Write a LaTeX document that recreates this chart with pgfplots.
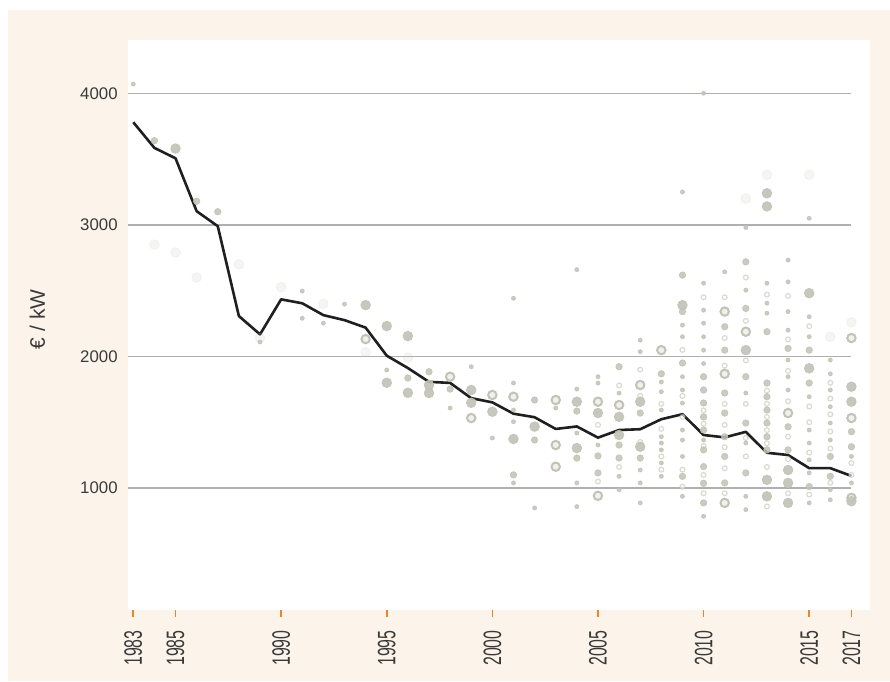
\documentclass[border=0pt]{standalone}
\usepackage{pgfplots}
\pgfplotsset{compat=1.18}
\usepackage{fontspec}
\setmainfont{Liberation Sans}
\newfontfamily\narrowfont{Liberation Sans}[FakeStretch=0.63]

\definecolor{cream}{HTML}{FCF4EA}
\definecolor{dotc}{HTML}{C2C2B6}
\definecolor{gridc}{HTML}{B0B0B0}
\definecolor{tickc}{HTML}{E8862A}
\definecolor{txt}{HTML}{3A3A3A}

% mean price per year
\pgfplotstableread{
year price
1983 3780
1984 3585
1985 3506
1986 3104
1987 2990
1988 2307
1989 2168
1990 2434
1991 2404
1992 2314
1993 2276
1994 2219
1995 2006
1996 1912
1997 1807
1998 1799
1999 1683
2000 1651
2001 1565
2002 1538
2003 1449
2004 1468
2005 1383
2006 1441
2007 1447
2008 1523
2009 1561
2010 1403
2011 1385
2012 1427
2013 1268
2014 1251
2015 1151
2016 1151
2017 1092
}\meanprice

% single plants, large dots
\pgfplotstableread{
x y
1985 3580
1994 2390
1995 2231
1995 1800
1996 2155
1996 1724
1997 1783
1997 1722
1999 1745
1999 1648
2000 1580
2001 1373
2002 1467
2004 1656
2004 1304
2005 1570
2006 1541
2006 1403
2007 1656
2007 1314
2009 2390
2012 2048
2013 3240
2013 3140
2013 1062
2013 937
2014 1137
2014 1039
2014 887
2015 2481
2015 1910
2017 1770
2017 1656
2017 900
}\bigdots

% large ring dots
\pgfplotstableread{
x y
1994 2132
1998 1846
1999 1532
2000 1707
2001 1694
2003 1669
2003 1327
2003 1162
2005 1656
2005 941
2006 1631
2007 1783
2008 2048
2011 2341
2011 1868
2011 887
2012 2188
2014 1570
2017 2140
2017 1532
2017 925
}\rings

% medium dots
\pgfplotstableread{
x y
1984 3640
1986 3180
1987 3100
1996 1836
1997 1884
1998 1752
2001 1100
2002 1669
2002 1365
2004 1585
2004 1228
2005 1244
2005 1115
2006 1922
2006 1327
2006 1228
2007 1570
2007 1228
2008 1868
2009 2618
2009 2341
2009 1950
2009 1089
2010 1846
2010 1745
2010 1646
2010 1541
2010 1441
2010 1290
2010 1163
2010 1036
2010 887
2011 2226
2011 2048
2011 1722
2011 1570
2011 1390
2011 1240
2011 1039
2012 2719
2012 2365
2012 1846
2012 1494
2012 1115
2013 2188
2013 1798
2013 1694
2013 1593
2013 1494
2013 1390
2013 1290
2014 2061
2014 1466
2014 1290
2015 2048
2015 1798
2015 1011
2016 1240
2016 1089
2017 1428
2017 1314
}\middots

% small dots
\pgfplotstableread{
x y
1983 4070
1989 2110
1991 2497
1991 2290
1992 2253
1993 2398
1995 1897
1998 1608
1999 1922
2000 1380
2001 2442
2001 1798
2001 1593
2001 1504
2001 1039
2002 849
2003 1608
2004 2660
2004 1752
2004 1418
2004 1039
2004 859
2005 1846
2005 1798
2005 1327
2006 1722
2006 1089
2006 987
2007 2124
2007 2036
2007 1137
2007 1039
2007 887
2008 1806
2008 1732
2008 1593
2008 1390
2008 1342
2008 1290
2008 1191
2008 1089
2009 3250
2009 2238
2009 2150
2009 1846
2009 1745
2009 1646
2009 1441
2009 1365
2009 1240
2009 937
2010 4000
2010 2557
2010 2352
2010 2253
2010 2150
2010 2048
2010 1946
2010 1365
2010 785
2011 2643
2012 2980
2012 2504
2012 1722
2012 1342
2012 937
2012 836
2013 2557
2013 2405
2013 2329
2014 2732
2014 2567
2014 2341
2014 2200
2014 1973
2014 1846
2014 1745
2015 3050
2015 2302
2015 2150
2015 1694
2015 1441
2015 1342
2015 1214
2015 1115
2015 887
2016 1973
2016 1868
2016 1745
2016 1618
2016 1494
2016 1365
2016 987
2016 911
2017 1240
2017 1039
}\smalldots

% pale dots filling the later columns
\pgfplotstableread{
x y
2005 1480
2005 1050
2006 1780
2006 1160
2007 1900
2007 1350
2007 1700
2008 1640
2008 1450
2008 1240
2008 1140
2009 2050
2009 1700
2009 1540
2009 1140
2009 1010
2010 2450
2010 1590
2010 1490
2010 1320
2010 1100
2010 960
2011 2450
2011 2140
2011 1930
2011 1640
2011 1480
2011 1310
2011 1150
2011 960
2012 2600
2012 2270
2012 1970
2012 1640
2012 1380
2012 1240
2013 2470
2013 1740
2013 1640
2013 1540
2013 1440
2013 1340
2013 1160
2013 860
2014 2460
2014 2130
2014 1890
2014 1660
2014 1390
2014 1220
2014 960
2015 2230
2015 1620
2015 1500
2015 1270
2015 950
2016 1800
2016 1680
2016 1560
2016 1430
2016 1300
2016 1040
2017 1190
2017 1100
}\paledots

% very faint dots
\pgfplotstableread{
x y
1984 2850
1985 2790
1986 2600
1988 2700
1989 2140
1990 2527
1992 2400
1994 2033
1996 1990
2012 3200
2013 3380
2015 3380
2016 2150
2017 2260
}\faintdots

\begin{document}
\begin{tikzpicture}[x=1bp,y=1bp]
\fill[white] (-64,-35.5) rectangle (381,305);
\fill[cream] (-60,-35.5) rectangle (381,300);
\begin{axis}[
    at={(0,0)}, anchor=south west,
    scale only axis, width=371bp, height=285bp,
    xmin=1982.75, xmax=2017.88,
    ymin=73, ymax=4405,
    axis line style={draw=none},
    axis background/.style={fill=white},
    xtick={1983,1985,1990,1995,2000,2005,2010,2015,2017},
    xticklabels={1983,1985,1990,1995,2000,2005,2010,2015,2017},
    ytick={1000,2000,3000,4000},
    yticklabels={1000,2000,3000,4000},
    tick pos=left,
    tick align=outside,
    major tick length=3.5bp,
    xtick style={draw=tickc, line width=0.8bp},
    ytick style={draw=none},
    xticklabel shift=6.5bp,
    xticklabel style={rotate=90, anchor=east, inner sep=0pt, text=txt,
        font=\narrowfont\fontsize{12.6bp}{14bp}\selectfont},
    yticklabel style={anchor=east, inner sep=0pt, xshift=-1.5bp, text=txt,
        font=\fontsize{8.4bp}{10bp}\selectfont},
    ylabel={\fontsize{10.5bp}{12bp}\selectfont € / kW},
    ylabel style={at={(axis description cs:-0.122,0.51)}, anchor=center,
        text=txt},
    clip=true,
]
% grid lines stop at 2017
\addplot[gridc, line width=0.7bp] coordinates {(1982.75,1000) (2017,1000)};
\addplot[gridc, line width=0.7bp] coordinates {(1982.75,2000) (2017,2000)};
\addplot[gridc, line width=0.7bp] coordinates {(1982.75,3000) (2017,3000)};
\addplot[gridc, line width=0.7bp] coordinates {(1982.75,4000) (2017,4000)};

\addplot[only marks, mark=*, mark size=2.4bp, color=dotc,
    mark options={fill=dotc, draw=dotc, opacity=0.15}] table[x=x,y=y] {\faintdots};
\addplot[only marks, mark=*, mark size=1.2bp, color=dotc,
    mark options={fill=white, draw=dotc, line width=0.6bp, opacity=0.6}] table[x=x,y=y] {\paledots};
\addplot[only marks, mark=*, mark size=1.0bp, color=dotc,
    mark options={fill=dotc, draw=dotc, opacity=0.85}] table[x=x,y=y] {\smalldots};
\addplot[only marks, mark=*, mark size=1.6bp, color=dotc,
    mark options={fill=dotc, draw=dotc, opacity=0.85}] table[x=x,y=y] {\middots};
\addplot[only marks, mark=*, mark size=2.1bp, color=dotc,
    mark options={fill=dotc!25, draw=dotc, line width=1bp}] table[x=x,y=y] {\rings};
\addplot[only marks, mark=*, mark size=2.4bp, color=dotc,
    mark options={fill=dotc, draw=dotc, opacity=0.9}] table[x=x,y=y] {\bigdots};

\addplot[line width=1.3bp, color=black!88, line join=round] table[x=year,y=price] {\meanprice};
\end{axis}
\end{tikzpicture}
\end{document}
